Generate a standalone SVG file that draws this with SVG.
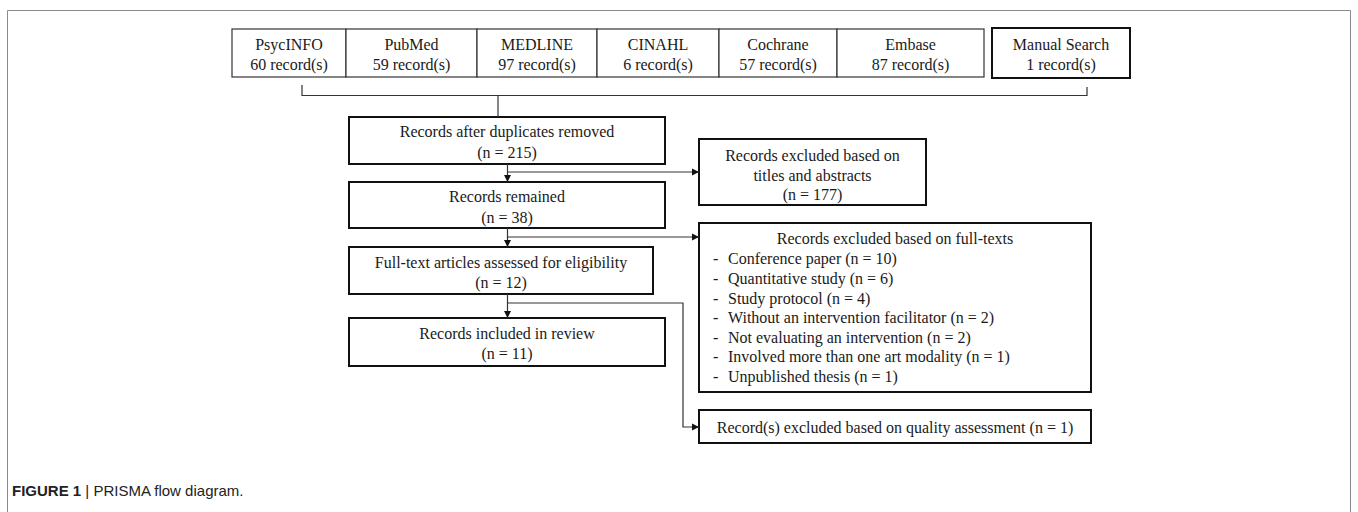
<svg xmlns="http://www.w3.org/2000/svg" width="1358" height="512" viewBox="0 0 1358 512">
<defs>
<marker id="ah" markerWidth="8" markerHeight="8" refX="7" refY="4" orient="auto" markerUnits="userSpaceOnUse">
<path d="M0,0.5 L7,4 L0,7.5 Z" fill="#111"/>
</marker>
<style>
.t{font-family:"Liberation Serif","Times New Roman",serif;font-size:16px;fill:#1a1a1a}
.c{text-anchor:middle}
.thin{fill:#fff;stroke:#333;stroke-width:1.2}
.thick{fill:#fff;stroke:#111;stroke-width:2}
.ln{fill:none;stroke:#333;stroke-width:1.2}
.cap{font-family:"Liberation Sans",Arial,sans-serif;font-size:15px;fill:#222}
</style>
</defs>
<rect x="0" y="0" width="1358" height="512" fill="#fff"/>
<path d="M7.5,520 V10.5 H1350.5 V520" fill="none" stroke="#8a8a8a" stroke-width="1"/>

<g id="psycinfo"><rect class="thin" x="232" y="29" width="114" height="48"/><text class="t c" x="289" y="50">PsycINFO</text><text class="t c" x="289" y="70">60 record(s)</text></g>
<g id="pubmed"><rect class="thin" x="346" y="29" width="131" height="48"/><text class="t c" x="411.5" y="50">PubMed</text><text class="t c" x="411.5" y="70">59 record(s)</text></g>
<g id="medline"><rect class="thin" x="477" y="29" width="120" height="48"/><text class="t c" x="537" y="50">MEDLINE</text><text class="t c" x="537" y="70">97 record(s)</text></g>
<g id="cinahl"><rect class="thin" x="597" y="29" width="122" height="48"/><text class="t c" x="658" y="50">CINAHL</text><text class="t c" x="658" y="70">6 record(s)</text></g>
<g id="cochrane"><rect class="thin" x="719" y="29" width="118" height="48"/><text class="t c" x="778" y="50">Cochrane</text><text class="t c" x="778" y="70">57 record(s)</text></g>
<g id="embase"><rect class="thin" x="837" y="29" width="147" height="48"/><text class="t c" x="910.5" y="50">Embase</text><text class="t c" x="910.5" y="70">87 record(s)</text></g>
<g id="manual"><rect class="thick" x="992" y="28" width="138" height="50"/><text class="t c" x="1061" y="50">Manual Search</text><text class="t c" x="1061" y="70">1 record(s)</text></g>

<g id="dup"><rect class="thick" x="349" y="117" width="316" height="47"/><text class="t c" x="507" y="137">Records after duplicates removed</text><text class="t c" x="507" y="158">(n = 215)</text></g>
<g id="remained"><rect class="thick" x="349" y="182" width="316" height="46"/><text class="t c" x="507" y="202">Records remained</text><text class="t c" x="507" y="223">(n = 38)</text></g>
<g id="fulltext"><rect class="thick" x="349" y="247" width="304" height="47"/><text class="t c" x="501" y="268">Full-text articles assessed for eligibility</text><text class="t c" x="501" y="288">(n = 12)</text></g>
<g id="included"><rect class="thick" x="349" y="318" width="316" height="48"/><text class="t c" x="507" y="339">Records included in review</text><text class="t c" x="507" y="359">(n = 11)</text></g>

<g id="excl-titles"><rect class="thick" x="699" y="139" width="227" height="66"/><text class="t c" x="812.5" y="161">Records excluded based on</text><text class="t c" x="812.5" y="181">titles and abstracts</text><text class="t c" x="812.5" y="200">(n = 177)</text></g>
<g id="excl-fulltexts"><rect class="thick" x="699" y="223" width="392" height="169"/>
<text class="t c" x="895" y="244">Records excluded based on full-texts</text>
<g class="t">
<text x="713" y="264">-</text><text x="728" y="264">Conference paper (n = 10)</text>
<text x="713" y="284">-</text><text x="728" y="284">Quantitative study (n = 6)</text>
<text x="713" y="303.5">-</text><text x="728" y="303.5">Study protocol (n = 4)</text>
<text x="713" y="323">-</text><text x="728" y="323">Without an intervention facilitator (n = 2)</text>
<text x="713" y="342.5">-</text><text x="728" y="342.5">Not evaluating an intervention (n = 2)</text>
<text x="713" y="362">-</text><text x="728" y="362">Involved more than one art modality (n = 1)</text>
<text x="713" y="382">-</text><text x="728" y="382">Unpublished thesis (n = 1)</text>
</g></g>
<g id="excl-quality"><rect class="thick" x="699" y="410" width="392" height="33"/><text class="t c" x="895" y="433">Record(s) excluded based on quality assessment (n = 1)</text></g>

<g id="connectors">
<path class="ln" d="M302,85 V95.5 H1087 V87"/>
<path class="ln" d="M498,95.5 V117"/>
<path class="ln" d="M507.5,164 V182" marker-end="url(#ah)"/>
<path class="ln" d="M507.5,172 H699" marker-end="url(#ah)"/>
<path class="ln" d="M507.5,228 V247" marker-end="url(#ah)"/>
<path class="ln" d="M507.5,237 H699" marker-end="url(#ah)"/>
<path class="ln" d="M507.5,294 V318" marker-end="url(#ah)"/>
<path class="ln" d="M507.5,303 H683 V427 H699" marker-end="url(#ah)"/>
</g>

<text class="cap" x="12" y="496"><tspan font-weight="bold">FIGURE 1</tspan> | PRISMA flow diagram.</text>
</svg>
